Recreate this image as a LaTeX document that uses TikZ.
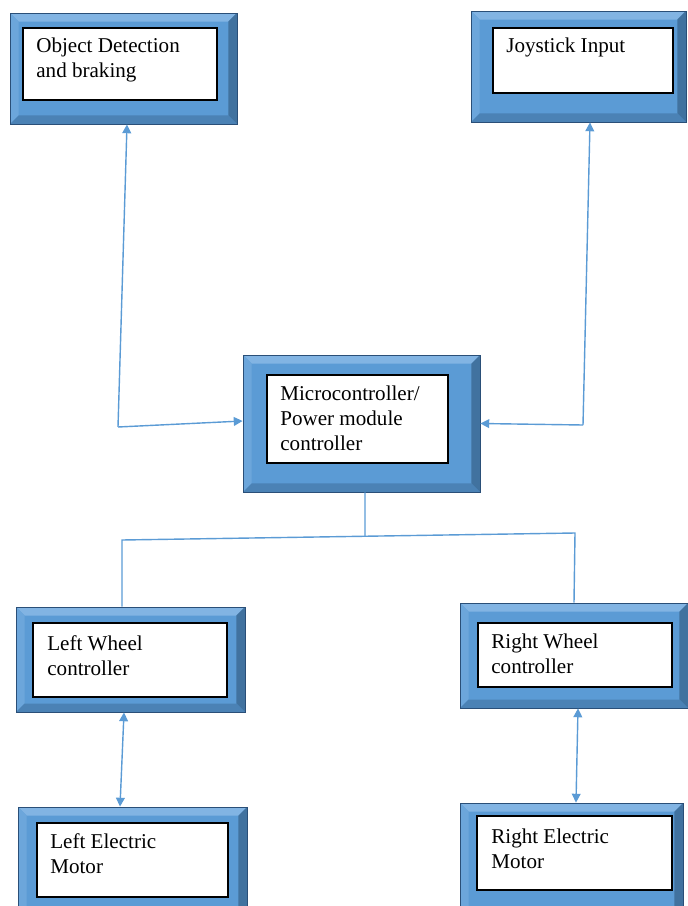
\documentclass[tikz,border=0pt]{standalone}
\usepackage{fontspec}
\setmainfont{Liberation Serif}
\usetikzlibrary{arrows.meta}
\definecolor{boxblue}{HTML}{5B9BD5}
\definecolor{boxlight}{HTML}{82B4E3}
\definecolor{boxside}{HTML}{6CA6DB}
\definecolor{boxdark}{HTML}{41729F}
\definecolor{boxedge}{HTML}{2A4F78}
\definecolor{linkblue}{HTML}{5B9BD5}
\tikzset{
  frame/.style={fill=boxblue, draw=boxedge, line width=0.5pt, inner sep=0pt,
    path picture={
      \fill[boxlight] (path picture bounding box.north west) -- (path picture bounding box.north east)
        -- ([shift={(-0.17cm,-0.17cm)}]path picture bounding box.north east)
        -- ([shift={(0.17cm,-0.17cm)}]path picture bounding box.north west) -- cycle;
      \fill[boxside] (path picture bounding box.north west) -- ([shift={(0.17cm,-0.17cm)}]path picture bounding box.north west)
        -- ([shift={(0.17cm,0.17cm)}]path picture bounding box.south west)
        -- (path picture bounding box.south west) -- cycle;
      \fill[boxdark] (path picture bounding box.north east) -- (path picture bounding box.south east)
        -- ([shift={(-0.17cm,0.17cm)}]path picture bounding box.south east)
        -- ([shift={(-0.17cm,-0.17cm)}]path picture bounding box.north east) -- cycle;
      \fill[boxdark!60!boxblue] (path picture bounding box.south west) -- (path picture bounding box.south east)
        -- ([shift={(-0.17cm,0.17cm)}]path picture bounding box.south east)
        -- ([shift={(0.17cm,0.17cm)}]path picture bounding box.south west) -- cycle;
    }},
  card/.style={fill=white, draw=black, line width=0.7pt, inner sep=0pt},
  txt/.style={anchor=north west, align=left, inner sep=0pt, font=\fontsize{12pt}{14.2pt}\selectfont},
  link/.style={draw=linkblue, line width=0.8pt},
  oneway/.style={link, -{Triangle[length=5pt,width=5pt]}},
  twoway/.style={link, {Triangle[length=5pt,width=5pt]}-{Triangle[length=5pt,width=5pt]}}
}
\begin{document}
\begin{tikzpicture}[x=0.02cm,y=-0.02cm]
\useasboundingbox (0,0) rectangle (688,906);
\node[frame, minimum width=4.54cm, minimum height=2.22cm] (b1) at (123.5,68.5) {};
\node[card, minimum width=3.88cm, minimum height=1.44cm] (w1) at (120,64) {};
\node[txt] (t1) at (36,37.5) {Object Detection\\and braking};
\node[frame, minimum width=4.3cm, minimum height=2.22cm] (b2) at (578.5,66.5) {};
\node[card, minimum width=3.6cm, minimum height=1.3cm] (w2) at (583,60.5) {};
\node[txt] (t2) at (506,37.5) {Joystick Input};
\node[frame, minimum width=4.74cm, minimum height=2.74cm] (b3) at (361.5,423.5) {};
\node[card, minimum width=3.62cm, minimum height=1.76cm] (w3) at (357.5,419) {};
\node[txt] (t3) at (280,385.5) {Microcontroller/\\Power module\\controller};
\node[frame, minimum width=4.58cm, minimum height=2.1cm] (b4) at (130.5,659.5) {};
\node[card, minimum width=3.88cm, minimum height=1.48cm] (w4) at (130,660) {};
\node[txt] (t4) at (47,635.5) {Left Wheel\\controller};
\node[frame, minimum width=4.56cm, minimum height=2.1cm] (b5) at (574,655.5) {};
\node[card, minimum width=3.88cm, minimum height=1.28cm] (w5) at (575,655) {};
\node[txt] (t5) at (491,633.5) {Right Wheel\\controller};
\node[frame, minimum width=4.58cm, minimum height=2.26cm] (b6) at (132.5,863.5) {};
\node[card, minimum width=3.82cm, minimum height=1.48cm] (w6) at (132.5,860) {};
\node[txt] (t6) at (50,833.5) {Left Electric\\Motor};
\node[frame, minimum width=4.46cm, minimum height=2.26cm] (b7) at (571.5,859.5) {};
\node[card, minimum width=3.9cm, minimum height=1.48cm] (w7) at (574.5,853) {};
\node[txt] (t7) at (491,828.5) {Right Electric\\Motor};
\coordinate (c1) at (118,427);
\coordinate (c2) at (583,425);
\coordinate (c3) at (122,540);
\coordinate (c4) at (575,533);
\coordinate (c5) at (365,536);
\draw[oneway] (c1) -- ([xshift=0.07cm]b1.south);
\draw[oneway] (c1) -- ([yshift=0.05cm]b3.west);
\draw[oneway] (c2) -- ([xshift=0.23cm]b2.south);
\draw[oneway] (c2) -- (b3.east);
\draw[link] ([xshift=0.07cm]b3.south) -- (c5);
\draw[link] ([xshift=-0.17cm]b4.north) -- (c3) -- (c4) -- (b5.north);
\draw[twoway] ([xshift=-0.13cm]b4.south) -- ([xshift=-0.25cm]b6.north);
\draw[twoway] ([xshift=0.08cm]b5.south) -- ([xshift=0.09cm]b7.north);
\end{tikzpicture}
\end{document}
